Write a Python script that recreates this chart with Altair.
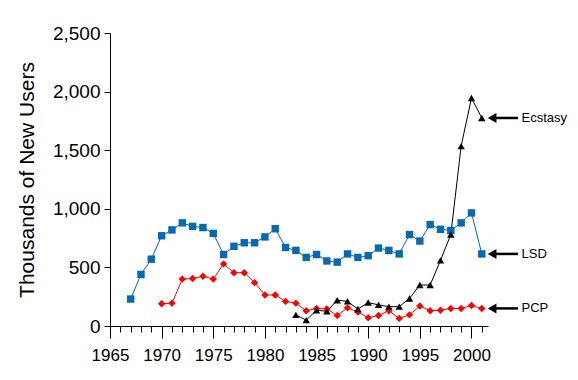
import altair as alt
import pandas as pd

years = list(range(1967, 2002))

lsd = [230, 440, 570, 770, 820, 880, 850, 840, 790, 610, 680, 710, 710, 760,
       830, 670, 645, 585, 610, 555, 545, 615, 585, 600, 665, 645, 615, 780,
       725, 865, 825, 815, 880, 965, 615]

pcp = [None, None, None, 190, 195, 400, 405, 425, 400, 530, 455, 455, 370, 265,
       265, 210, 195, 130, 150, 145, 90, 155, 120, 70, 90, 130, 65, 95,
       170, 130, 135, 150, 150, 175, 150]

ecstasy = [None] * 16 + [95, 50, 135, 125, 220, 210, 145, 200, 180, 165, 165,
                         235, 350, 350, 560, 780, 1535, 1945, 1775]

series_names = ["LSD", "PCP", "Ecstasy"]
series_colors = ["#0569b3", "#ff0000", "#000000"]
series_shapes = ["square", "diamond", "triangle-up"]

rows = []
for name, vals in zip(series_names, [lsd, pcp, ecstasy]):
    for y, v in zip(years, vals):
        if v is not None:
            rows.append({"year": y, "value": v, "drug": name})
df = pd.DataFrame(rows)

# annotation labels at each series' last value
label_names = ["Ecstasy", "LSD", "PCP"]
label_values = [ecstasy[-1], lsd[-1], pcp[-1]]
ann = pd.DataFrame({"label": label_names, "value": label_values,
                    "x0": [2002.0] * 3, "x1": [2004.5] * 3, "xt": [2004.85] * 3})

FONT = "Liberation Sans"
xdom = [1965, 2001.6]
xscale = alt.Scale(domain=xdom, nice=False, zero=False)
yscale = alt.Scale(domain=[0, 2500], nice=False)

xaxis = alt.Axis(values=list(range(1965, 2002)),
                 labelExpr="datum.value % 5 === 0 ? format(datum.value, 'd') : ''",
                 tickSize={"condition": {"test": "datum.value % 5 === 0", "value": 12},
                           "value": 6},
                 labelFontSize=17, labelFont=FONT, labelColor="black",
                 labelPadding=9, grid=False, title=None,
                 domainColor="black", tickColor="black", labelFlush=False,
                 labelOverlap=False)
yaxis = alt.Axis(values=list(range(0, 2501, 500)),
                 labelExpr="format(datum.value, ',')", tickSize=6,
                 labelFontSize=19, labelFont=FONT, labelColor="black",
                 labelPadding=4, grid=False, title="Thousands of New Users",
                 titleFont=FONT, titleFontSize=21, titleFontWeight="normal",
                 titleColor="black", titlePadding=15, domainColor="black",
                 tickColor="black")

color = alt.Color("drug:N", scale=alt.Scale(domain=series_names, range=series_colors),
                  legend=None)

lines = alt.Chart(df).mark_line(strokeWidth=1).encode(
    x=alt.X("year:Q", scale=xscale, axis=xaxis),
    y=alt.Y("value:Q", scale=yscale, axis=yaxis),
    color=color,
    detail="drug:N",
)

points = alt.Chart(df).mark_point(filled=True, opacity=1, size=55).encode(
    x=alt.X("year:Q", scale=xscale, axis=xaxis),
    y=alt.Y("value:Q", scale=yscale, axis=yaxis),
    color=color,
    shape=alt.Shape("drug:N", scale=alt.Scale(domain=series_names, range=series_shapes),
                    legend=None),
)

arrow_lines = alt.Chart(ann).mark_rule(strokeWidth=2.5, color="black", clip=False).encode(
    x=alt.X("x0:Q", scale=xscale, axis=xaxis),
    x2="x1:Q",
    y=alt.Y("value:Q", scale=yscale, axis=yaxis),
)
arrow_heads = alt.Chart(ann).mark_point(shape="triangle-left", filled=True, size=100,
                                        color="black", opacity=1, clip=False).encode(
    x=alt.X("x0:Q", scale=xscale, axis=xaxis),
    y=alt.Y("value:Q", scale=yscale, axis=yaxis),
)
labels = alt.Chart(ann).mark_text(align="left", baseline="middle", fontSize=13,
                                  font=FONT, color="black", clip=False).encode(
    x=alt.X("xt:Q", scale=xscale, axis=xaxis),
    y=alt.Y("value:Q", scale=yscale, axis=yaxis),
    text="label:N",
)

chart = alt.layer(lines, points, arrow_lines, arrow_heads, labels).properties(
    width=378, height=293,
    autosize=alt.AutoSizeParams(type="none"),
    padding={"left": 102, "top": 25, "right": 82, "bottom": 46},
    background="white",
).configure_view(stroke=None)

chart.save("out.html", embed_options={"renderer": "svg", "actions": False})
